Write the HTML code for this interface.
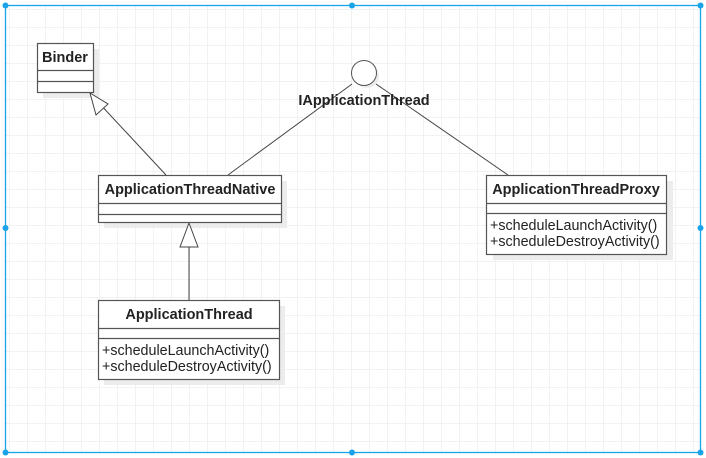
<!DOCTYPE html>
<html><head><style>
html,body{margin:0;padding:0;background:#fff;}
svg{display:block;}
text{font-family:"Liberation Sans",Arial,sans-serif;fill:#222;}
.b{font-weight:bold;font-size:14.5px;}
.m{font-size:14.3px;}
</style></head><body>
<svg width="706" height="458" viewBox="0 0 706 458" xmlns="http://www.w3.org/2000/svg">
<defs>
<pattern id="g" width="18" height="18" patternUnits="userSpaceOnUse" x="10" y="10">
<path d="M18 0V18M0 18H18" fill="none" stroke="#e6e6e6" stroke-width="1"/>
</pattern>
</defs>
<rect x="5" y="5" width="695" height="447" fill="url(#g)"/>
<rect x="5.5" y="5.5" width="695" height="447" fill="none" stroke="#1aa3e8" stroke-width="1.3"/>
<g fill="#1aa3e8">
<circle cx="5.5" cy="5.5" r="3"/><circle cx="352" cy="5.5" r="3"/><circle cx="700.5" cy="5.5" r="3"/>
<circle cx="5.5" cy="228" r="3"/><circle cx="700.5" cy="228" r="3"/>
<circle cx="5.5" cy="452.5" r="3"/><circle cx="352" cy="452.5" r="3"/><circle cx="700.5" cy="452.5" r="3"/>
</g>
<g fill="#ececec">
<rect x="43" y="49" width="56" height="49"/>
<rect x="104" y="181" width="183" height="47"/>
<rect x="104" y="306" width="181" height="79"/>
<rect x="493" y="181" width="180" height="79"/>
<circle cx="367" cy="76" r="12"/>
</g>
<g stroke="#444" stroke-width="1" fill="none">
<line x1="166" y1="175" x2="98" y2="102"/>
<polygon points="90,93 108,104 96,115" fill="#fff"/>
<line x1="228" y1="175" x2="352" y2="84"/>
<line x1="376" y1="84" x2="508" y2="175"/>
<line x1="189" y1="300" x2="189" y2="247"/>
<polygon points="189,223 180,247 198,247" fill="#fff"/>
</g>
<circle cx="364" cy="73" r="12.5" fill="#fff" stroke="#555" stroke-width="1"/>
<text x="364" y="105" class="b" text-anchor="middle">IApplicationThread</text>
<g stroke="#555" stroke-width="1.2" fill="#fff">
<rect x="37.5" y="43.5" width="56" height="49"/>
<line x1="37.5" y1="70.5" x2="93.5" y2="70.5"/><line x1="37.5" y1="81.5" x2="93.5" y2="81.5"/>
<rect x="98.5" y="175.5" width="183" height="47"/>
<line x1="98.5" y1="203.5" x2="281.5" y2="203.5"/><line x1="98.5" y1="214.5" x2="281.5" y2="214.5"/>
<rect x="98.5" y="300.5" width="181" height="79"/>
<line x1="98.5" y1="328.5" x2="279.5" y2="328.5"/><line x1="98.5" y1="338.5" x2="279.5" y2="338.5"/>
<rect x="486.5" y="175.5" width="180" height="79"/>
<line x1="486.5" y1="203.5" x2="666.5" y2="203.5"/><line x1="486.5" y1="213.5" x2="666.5" y2="213.5"/>
</g>
<text x="42" y="62" class="b">Binder</text>
<text x="190" y="194" class="b" text-anchor="middle">ApplicationThreadNative</text>
<text x="189" y="319" class="b" text-anchor="middle">ApplicationThread</text>
<text x="102" y="355" class="m">+scheduleLaunchActivity()</text>
<text x="102" y="371" class="m">+scheduleDestroyActivity()</text>
<text x="576" y="194" class="b" text-anchor="middle">ApplicationThreadProxy</text>
<text x="490" y="230" class="m">+scheduleLaunchActivity()</text>
<text x="490" y="246" class="m">+scheduleDestroyActivity()</text>
</svg>
</body></html>
